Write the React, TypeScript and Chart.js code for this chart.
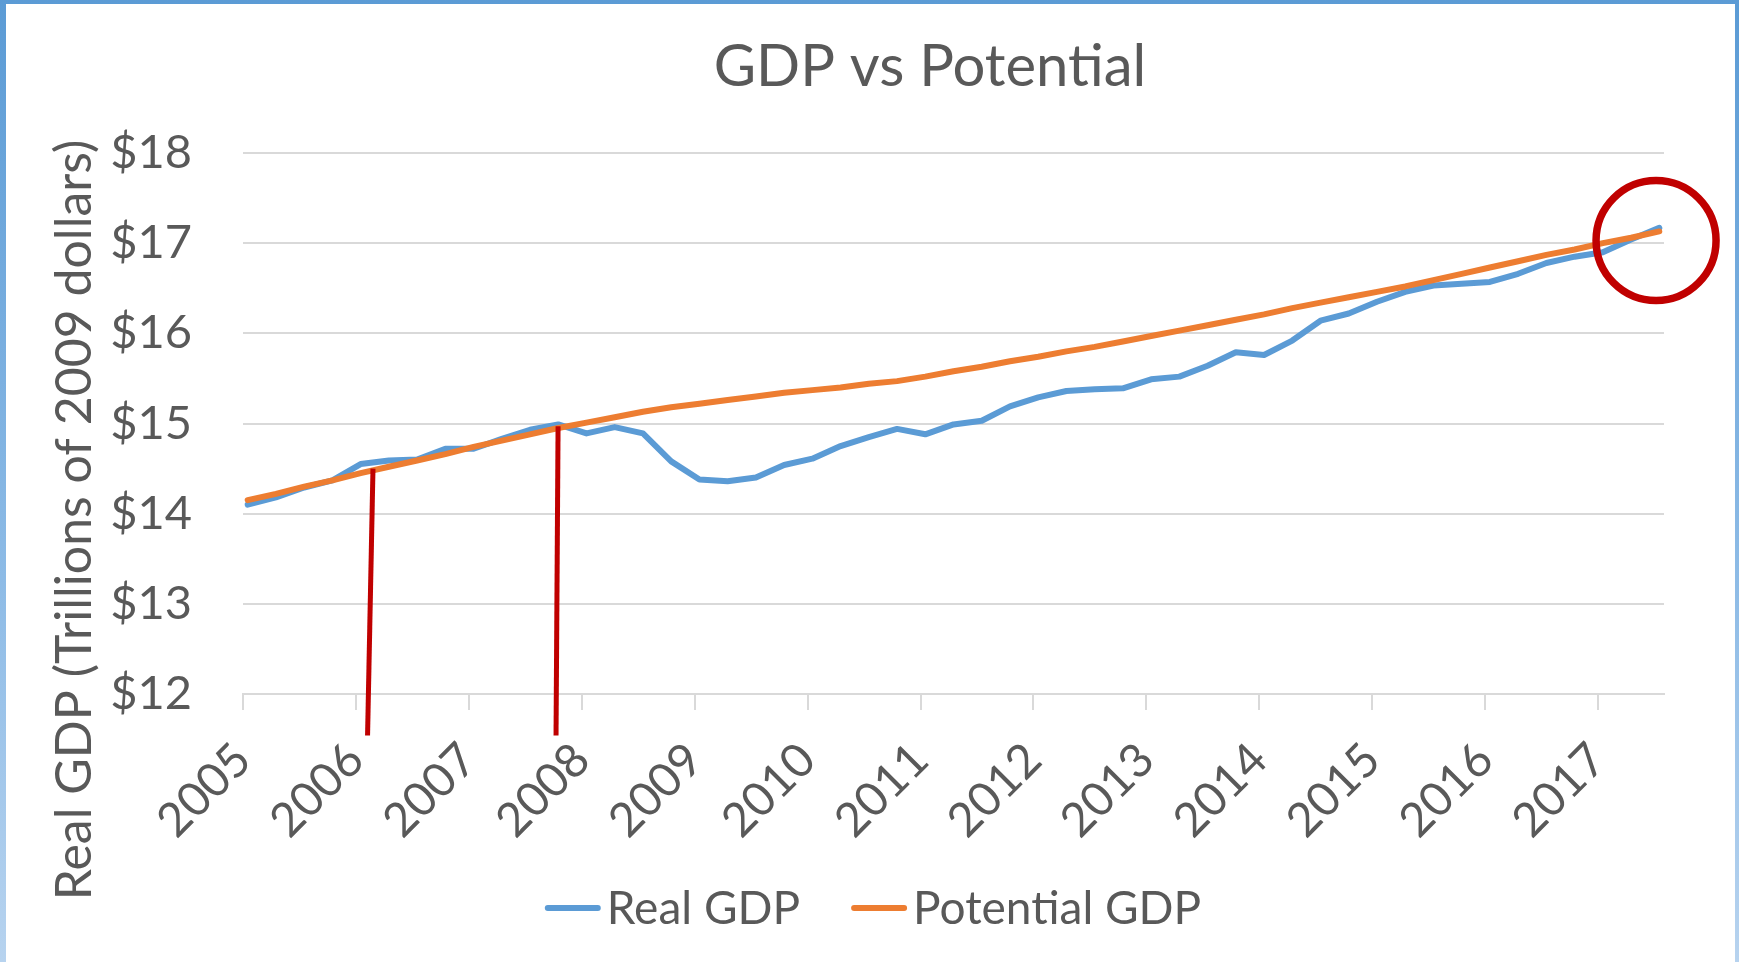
import React, { useEffect, useRef } from 'react';
import { Chart, registerables } from 'chart.js';

Chart.register(...registerables);

// ---------- data ----------
const TITLE = 'GDP vs Potential';
const Y_TITLE = 'Real GDP (Trillions of 2009 dollars)';
const YEARS = [2005, 2006, 2007, 2008, 2009, 2010, 2011, 2012, 2013, 2014, 2015, 2016, 2017];
const QUARTERS = [
  '2005Q1', '2005Q2', '2005Q3', '2005Q4',
  '2006Q1', '2006Q2', '2006Q3', '2006Q4',
  '2007Q1', '2007Q2', '2007Q3', '2007Q4',
  '2008Q1', '2008Q2', '2008Q3', '2008Q4',
  '2009Q1', '2009Q2', '2009Q3', '2009Q4',
  '2010Q1', '2010Q2', '2010Q3', '2010Q4',
  '2011Q1', '2011Q2', '2011Q3', '2011Q4',
  '2012Q1', '2012Q2', '2012Q3', '2012Q4',
  '2013Q1', '2013Q2', '2013Q3', '2013Q4',
  '2014Q1', '2014Q2', '2014Q3', '2014Q4',
  '2015Q1', '2015Q2', '2015Q3', '2015Q4',
  '2016Q1', '2016Q2', '2016Q3', '2016Q4',
  '2017Q1', '2017Q2', '2017Q3',
];
const REAL_GDP = [
  14.10, 14.18, 14.29, 14.37,
  14.55, 14.59, 14.60, 14.72,
  14.72, 14.83, 14.93, 14.99,
  14.89, 14.96, 14.89, 14.58,
  14.38, 14.36, 14.40, 14.54,
  14.61, 14.75, 14.85, 14.94,
  14.88, 14.99, 15.03, 15.19,
  15.29, 15.36, 15.38, 15.39,
  15.49, 15.52, 15.64, 15.79,
  15.76, 15.92, 16.14, 16.22,
  16.35, 16.46, 16.53, 16.55,
  16.57, 16.66, 16.78, 16.85,
  16.90, 17.04, 17.17,
];
const POTENTIAL_GDP = [
  14.15, 14.22, 14.30, 14.37,
  14.45, 14.52, 14.59, 14.66,
  14.74, 14.81, 14.88, 14.95,
  15.01, 15.07, 15.13, 15.18,
  15.22, 15.26, 15.30, 15.34,
  15.37, 15.40, 15.44, 15.47,
  15.52, 15.58, 15.63, 15.69,
  15.74, 15.80, 15.85, 15.91,
  15.97, 16.03, 16.09, 16.15,
  16.21, 16.28, 16.34, 16.40,
  16.46, 16.52, 16.59, 16.66,
  16.73, 16.80, 16.87, 16.93,
  17.00, 17.06, 17.13,
];
const Y_MIN = 12;
const Y_MAX = 18;

// annotation shapes, in data coordinates
const MARKER_LINES = [
  { x1: 2006.151, y1: 14.5, x2: 2006.103, y2: 11.54 },
  { x1: 2007.79, y1: 14.97, x2: 2007.772, y2: 11.54 },
];
const MARKER_CIRCLE = { x: 2017.513, y: 17.03 };

// ---------- style ----------
const FONT = 'Lato, "Open Sans", sans-serif';
const TEXT = '#595959';
const GRID = '#d9d9d9';
const BLUE = '#5b9bd5';
const ORANGE = '#ed7d31';
const RED = '#c00000';
const W = 1739;
const H = 962;

// Quarter -> position on a monthly date axis (centre of the first month of the quarter)
const quarterToX = (q: string) => {
  const y = parseInt(q.slice(0, 4), 10);
  const n = parseInt(q.slice(5), 10);
  return y + ((n - 1) * 3 + 0.5) / 12;
};
const X_MIN = 2005;
const X_MAX = 2017 + 7 / 12;

const textPlugin = {
  id: 'customText',
  afterDraw(chart: any) {
    const ctx = chart.ctx as CanvasRenderingContext2D;
    ctx.save();
    ctx.fillStyle = TEXT;
    // title
    ctx.font = `58px ${FONT}`;
    ctx.textAlign = 'center';
    ctx.textBaseline = 'alphabetic';
    ctx.fillText(TITLE, 930, 86);
    // y title
    ctx.save();
    ctx.translate(91, 520);
    ctx.rotate(-Math.PI / 2);
    ctx.font = `50px ${FONT}`;
    ctx.fillText(Y_TITLE, 0, 0);
    ctx.restore();
    // legend
    ctx.font = `46px ${FONT}`;
    const order = [0, 1];
    const ds = order.map((i) => chart.data.datasets[i]);
    const lineLen = 56;
    const gap = 6;
    const itemGap = 51;
    let total = 0;
    ds.forEach((d: any, k: number) => {
      total += lineLen + gap + ctx.measureText(d.label).width + (k ? itemGap : 0);
    });
    let x = 873 - total / 2;
    ds.forEach((d: any, k: number) => {
      if (k) x += itemGap;
      ctx.strokeStyle = d.borderColor;
      ctx.lineWidth = 6;
      ctx.lineCap = 'round';
      ctx.beginPath();
      ctx.moveTo(x + 3, 908);
      ctx.lineTo(x + lineLen - 3, 908);
      ctx.stroke();
      x += lineLen + gap;
      ctx.textAlign = 'left';
      ctx.fillText(d.label, x, 924);
      x += ctx.measureText(d.label).width;
    });
    ctx.restore();
  },
};

const markerPlugin = {
  id: 'markers',
  afterDatasetsDraw(chart: any) {
    const ctx = chart.ctx as CanvasRenderingContext2D;
    const xs = chart.scales.x;
    const ys = chart.scales.y;
    ctx.save();
    ctx.strokeStyle = RED;
    ctx.lineCap = 'butt';
    ctx.lineWidth = 5;
    MARKER_LINES.forEach((m) => {
      ctx.beginPath();
      ctx.moveTo(xs.getPixelForValue(m.x1), ys.getPixelForValue(m.y1));
      ctx.lineTo(xs.getPixelForValue(m.x2), ys.getPixelForValue(m.y2));
      ctx.stroke();
    });
    ctx.lineWidth = 7.5;
    ctx.beginPath();
    ctx.arc(xs.getPixelForValue(MARKER_CIRCLE.x), ys.getPixelForValue(MARKER_CIRCLE.y), 60, 0, Math.PI * 2);
    ctx.stroke();
    ctx.restore();
  },
};

export default function App() {
  const ref = useRef<HTMLCanvasElement | null>(null);

  useEffect(() => {
    if (!ref.current) return;
    const xs = QUARTERS.map(quarterToX);
    const chart = new Chart(ref.current, {
      type: 'line',
      data: {
        datasets: [
          {
            label: 'Real GDP',
            data: REAL_GDP.map((v, i) => ({ x: xs[i], y: v })),
            borderColor: BLUE,
            backgroundColor: BLUE,
            borderWidth: 6,
            pointRadius: 0,
            tension: 0,
            borderJoinStyle: 'round',
            borderCapStyle: 'round',
            order: 1,
          },
          {
            label: 'Potential GDP',
            data: POTENTIAL_GDP.map((v, i) => ({ x: xs[i], y: v })),
            borderColor: ORANGE,
            backgroundColor: ORANGE,
            borderWidth: 6,
            pointRadius: 0,
            tension: 0,
            borderJoinStyle: 'round',
            borderCapStyle: 'round',
            order: 0,
          },
        ],
      },
      options: {
        responsive: false,
        animation: false,
        layout: { padding: { top: 153, left: 0, right: 75, bottom: 0 } },
        plugins: {
          legend: { display: false },
          title: { display: false },
          tooltip: { enabled: false },
        },
        scales: {
          x: {
            type: 'linear',
            min: X_MIN,
            max: X_MAX,
            afterBuildTicks: (s: any) => {
              s.ticks = YEARS.map((v) => ({ value: v }));
            },
            afterFit: (s: any) => {
              s.height = H - 694;
              s.paddingLeft = 0;
              s.paddingRight = 0;
            },
            grid: { drawOnChartArea: false, drawTicks: true, tickLength: 16, color: GRID, lineWidth: 2 },
            border: { display: true, color: GRID, width: 2 },
            ticks: {
              autoSkip: false,
              maxRotation: 45,
              minRotation: 45,
              padding: 22,
              color: TEXT,
              font: { family: FONT, size: 47 },
              callback: (v: any) => String(v),
            },
          },
          y: {
            min: Y_MIN,
            max: Y_MAX,
            afterFit: (s: any) => {
              s.width = 243;
              s.paddingTop = 0;
              s.paddingBottom = 0;
            },
            ticks: {
              stepSize: 1,
              padding: 51,
              color: TEXT,
              font: { family: FONT, size: 47 },
              callback: (v: any) => '$' + v,
            },
            grid: { color: GRID, lineWidth: 2, drawTicks: false },
            border: { display: false },
          },
        },
      },
      plugins: [markerPlugin, textPlugin],
    });
    const fonts = (document as any).fonts;
    if (fonts && fonts.load) {
      Promise.all([fonts.load(`46px Lato`), fonts.load(`58px Lato`)])
        .catch(() => null)
        .then(() => chart.update());
    }
    return () => chart.destroy();
  }, []);

  return (
    <div
      style={{
        position: 'absolute',
        left: 0,
        top: 0,
        width: W,
        height: H,
        background: 'linear-gradient(to bottom, #5b9bd5 0%, #8dbbe6 60%, #b7d3ef 100%)',
      }}
    >
      <div style={{ position: 'absolute', left: 6, top: 4, right: 4, bottom: 0, background: '#fff' }} />
      <canvas ref={ref} width={W} height={H} style={{ position: 'absolute', left: 0, top: 0 }} />
    </div>
  );
}
